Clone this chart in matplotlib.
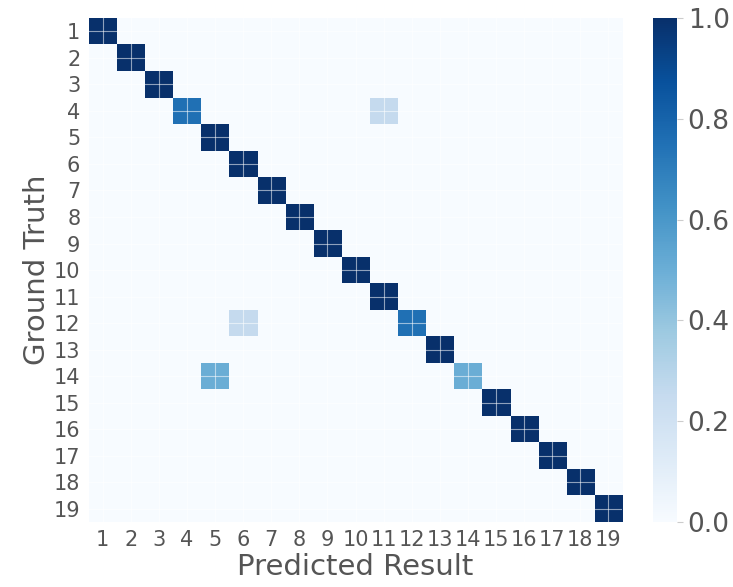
import matplotlib.pyplot as plt
import numpy as np

labels = [str(i) for i in range(1, 20)]
# off-diagonal confusions: (ground truth, predicted, value)
row4 = {4: 0.75, 11: 0.25}
row12 = {6: 0.25, 12: 0.75}
row14 = {5: 0.5, 14: 0.5}

cm = np.eye(19)
for r, d in [(4, row4), (12, row12), (14, row14)]:
    cm[r - 1, r - 1] = 0
    for c, v in d.items():
        cm[r - 1, c - 1] = v

txt = '#555555'
fig = plt.figure(figsize=(7.33, 5.87), dpi=100)
ax = fig.add_axes([0.121, 0.111, 0.728, 0.858])
cax = fig.add_axes([0.891, 0.111, 0.033, 0.858])

im = ax.imshow(cm, cmap='Blues', vmin=0, vmax=1, aspect='auto', interpolation='nearest')
ax.set_xticks(range(19))
ax.set_xticklabels(labels)
ax.set_yticks(range(19))
ax.set_yticklabels(labels)
ax.tick_params(length=0, labelsize=15, colors=txt, pad=6)
ax.grid(True, color='white', linewidth=0.8, alpha=0.55)
for s in ax.spines.values():
    s.set_visible(False)
ax.set_xlabel('Predicted Result', fontsize=21, color=txt, labelpad=2)
ax.set_ylabel('Ground Truth', fontsize=21, color=txt, labelpad=2)

cb = fig.colorbar(im, cax=cax)
cb.outline.set_visible(False)
cb.set_ticks([0, 0.2, 0.4, 0.6, 0.8, 1.0])
cb.ax.tick_params(labelsize=19, colors=txt, length=4, color='#cccccc')

fig.savefig('out.png', dpi=100)
